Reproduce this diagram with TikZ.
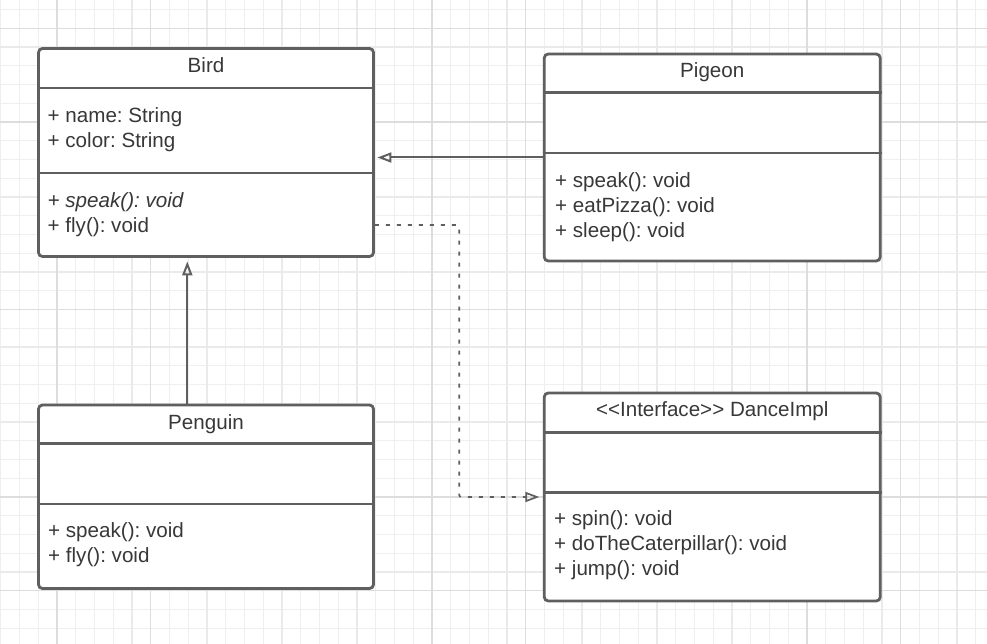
\documentclass[tikz,border=0pt]{standalone}
\usepackage{fontspec}
\setmainfont{Liberation Sans}
\usetikzlibrary{arrows.meta}
\definecolor{edge}{HTML}{5F5F5F}
\definecolor{ink}{HTML}{383838}
\definecolor{gridlo}{HTML}{EFEFEF}
\definecolor{gridmd}{HTML}{EAEAEA}
\definecolor{gridhi}{HTML}{DDDDDD}
\frenchspacing
\begin{document}
\begin{tikzpicture}[x=1pt, y=-1pt,
    gridminor/.style={draw=gridlo, line width=0.9pt},
    gridmid/.style={draw=gridmd, line width=2pt},
    gridodd/.style={draw=gridhi, line width=0.9pt},
    gridmajor/.style={draw=gridhi, line width=2pt},
    classbox/.style={draw=edge, line width=2.8pt, fill=white, rounded corners=4pt, inner sep=0pt},
    rowline/.style={draw=edge, line width=2.8pt},
    txt/.style={inner sep=0pt, text=ink, font=\fontsize{20.6}{25}\selectfont},
    title/.style={txt, anchor=base},
    member/.style={txt, anchor=base west},
    inherit/.style={draw=edge, line width=2pt, -{Triangle[open, length=14pt, width=10pt]}},
    realize/.style={inherit, line width=1.7pt, dash pattern=on 4pt off 7pt, rounded corners=2pt}]
    \useasboundingbox (0,0) rectangle (987,644);
    \fill[white] (0,0) rectangle (987,644);

    \foreach \k in {0,...,52}
        \draw[gridminor] (0.75+18.75*\k,0) -- ++(0,644);
    \foreach \k in {0,...,33}
        \draw[gridminor] (0,9.5+18.75*\k) -- ++(987,0);
    \foreach \k in {0,...,12}
        \draw[gridmid] (57+75*\k,0) -- ++(0,644);
    \foreach \k in {0,...,7}
        \draw[gridmid] (0,47+75*\k) -- ++(987,0);
    \foreach \x in {150.75,525.75,900.75}
        \draw[gridodd] (\x,0) -- ++(0,644);
    \foreach \y in {28.25,309.5,590.75}
        \draw[gridodd] (0,\y) -- ++(987,0);
    \foreach \x in {57,432,807}
        \draw[gridmajor] (\x,0) -- ++(0,644);
    \foreach \y in {122,497}
        \draw[gridmajor] (0,\y) -- ++(987,0);

    \node[classbox, minimum width=335pt, minimum height=208pt]   (bird)    at (206,152.5)    {};
    \node[classbox, minimum width=336pt, minimum height=207pt]   (pigeon)  at (712.25,157.5) {};
    \node[classbox, minimum width=335pt, minimum height=183.5pt] (penguin) at (206,496.75)   {};
    \node[classbox, minimum width=336pt, minimum height=208pt]   (dance)   at (712.25,497)   {};

    \draw[rowline] (bird.west |- 0,88)       -- (bird.east |- 0,88);
    \draw[rowline] (bird.west |- 0,173)      -- (bird.east |- 0,173);
    \draw[rowline] (pigeon.west |- 0,92.5)   -- (pigeon.east |- 0,92.5);
    \draw[rowline] (pigeon.west |- 0,153)    -- (pigeon.east |- 0,153);
    \draw[rowline] (penguin.west |- 0,443.5) -- (penguin.east |- 0,443.5);
    \draw[rowline] (penguin.west |- 0,504)   -- (penguin.east |- 0,504);
    \draw[rowline] (dance.west |- 0,432.5)   -- (dance.east |- 0,432.5);
    \draw[rowline] (dance.west |- 0,492.5)   -- (dance.east |- 0,492.5);

    \node[title]  (birdname)  at (206,72.7)    {Bird};
    \node[member] (birdattr1) at (47.5,122.5)  {+ name: String};
    \node[member] (birdattr2) at (47.5,147.5)  {+ color: String};
    \node[member] (birdop1)   at (47.5,207.3)  {\textit{+ speak(): void}};
    \node[member] (birdop2)   at (47.5,232.3)  {+ fly(): void};

    \node[title]  (pigeonname) at (712.25,77.3) {Pigeon};
    \node[member] (pigeonop1)  at (555,187.3)   {+ speak(): void};
    \node[member] (pigeonop2)  at (555,212.3)   {+ eatPizza(): void};
    \node[member] (pigeonop3)  at (555,237.3)   {+ sleep(): void};

    \node[title]  (penguinname) at (206,429)    {Penguin};
    \node[member] (penguinop1)  at (48,537.3)   {+ speak(): void};
    \node[member] (penguinop2)  at (48,562.3)   {+ fly(): void};

    \node[title]  (dancename) at (712.25,416)   {<{}<Interface>{}> DanceImpl};
    \node[member] (danceop1)  at (554,525.7)    {+ spin(): void};
    \node[member] (danceop2)  at (554,550.7)    {+ doTheCaterpillar(): void};
    \node[member] (danceop3)  at (554,575.7)    {+ jump(): void};

    \draw[inherit, shorten >=2.5pt] (pigeon.west) -- (pigeon.west -| bird.east);
    \draw[inherit, shorten >=3.5pt] ([xshift=-18.7pt]penguin.north) -- ([xshift=-18.7pt]bird.south);
    \draw[realize, shorten >=3.5pt] ([yshift=-72.5pt]bird.east) -- ++(84.3,0) |- (dance.west);
\end{tikzpicture}
\end{document}
